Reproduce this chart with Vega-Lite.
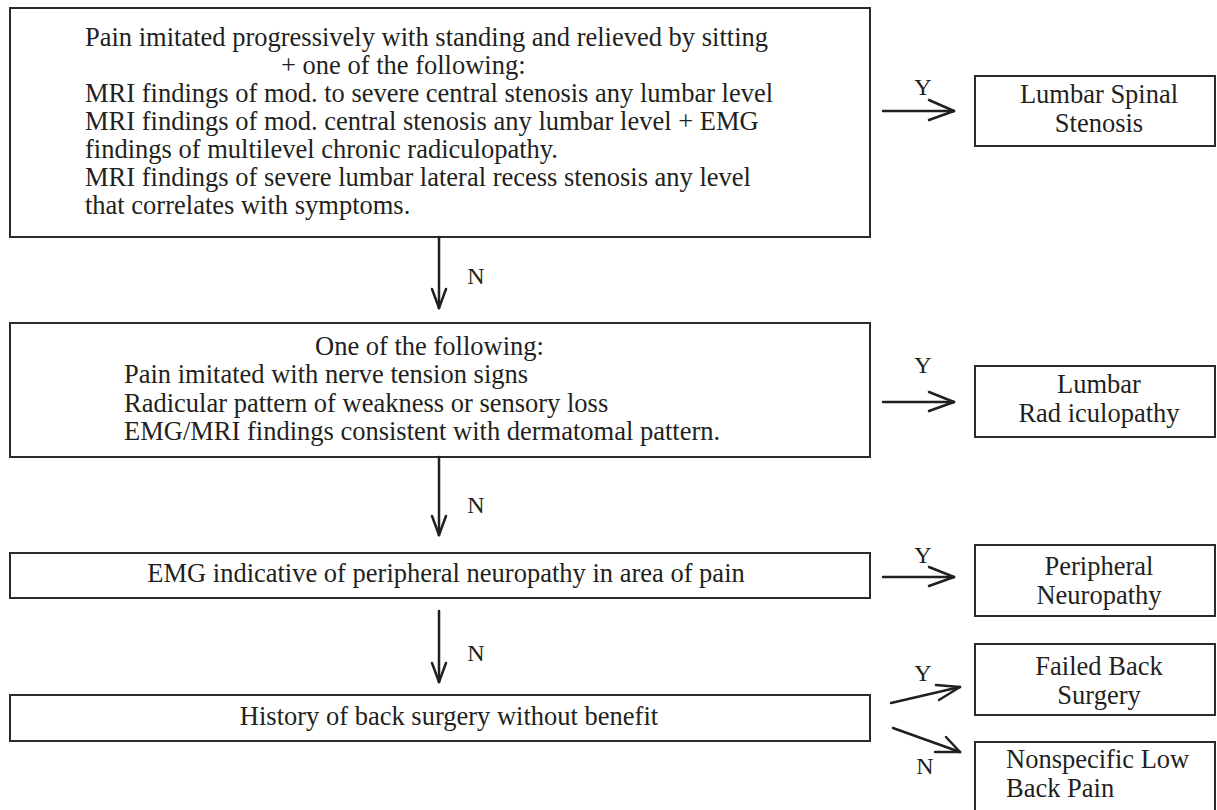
{
  "$schema": "https://vega.github.io/schema/vega-lite/v6.json",
  "width": 1217,
  "height": 810,
  "padding": 0,
  "autosize": {"type": "fit", "contains": "padding"},
  "background": "white",
  "config": {"view": {"stroke": null}},
  "datasets": {
    "boxes": [
      {"node": "Stenosis criteria", "x": 10, "x2": 870, "y": 8, "y2": 237},
      {"node": "Radiculopathy criteria", "x": 10, "x2": 870, "y": 323, "y2": 457},
      {"node": "EMG neuropathy", "x": 10, "x2": 870, "y": 553, "y2": 598},
      {"node": "Back surgery history", "x": 10, "x2": 870, "y": 695, "y2": 741},
      {"node": "Lumbar Spinal Stenosis", "x": 975, "x2": 1215, "y": 76, "y2": 146},
      {"node": "Lumbar Radiculopathy", "x": 975, "x2": 1215, "y": 366, "y2": 437},
      {"node": "Peripheral Neuropathy", "x": 975, "x2": 1215, "y": 545, "y2": 616},
      {"node": "Failed Back Surgery", "x": 975, "x2": 1215, "y": 644, "y2": 715},
      {"node": "Nonspecific Low Back Pain", "x": 975, "x2": 1215, "y": 742, "y2": 830}
    ],
    "segments": [
      {"x": 883, "y": 111, "x2": 954, "y2": 111},
      {"x": 929, "y": 100, "x2": 954, "y2": 111},
      {"x": 929, "y": 120, "x2": 954, "y2": 111},
      {"x": 883, "y": 402, "x2": 954, "y2": 402},
      {"x": 929, "y": 392, "x2": 954, "y2": 402},
      {"x": 929, "y": 411, "x2": 954, "y2": 402},
      {"x": 883, "y": 577, "x2": 954, "y2": 577},
      {"x": 929, "y": 567, "x2": 954, "y2": 577},
      {"x": 929, "y": 586, "x2": 954, "y2": 577},
      {"x": 891, "y": 703, "x2": 960, "y2": 687},
      {"x": 936, "y": 685, "x2": 960, "y2": 687},
      {"x": 939, "y": 700, "x2": 960, "y2": 687},
      {"x": 893, "y": 728, "x2": 960, "y2": 752},
      {"x": 935, "y": 752, "x2": 960, "y2": 752},
      {"x": 946, "y": 737, "x2": 960, "y2": 752},
      {"x": 439, "y": 237, "x2": 439, "y2": 308},
      {"x": 432, "y": 289, "x2": 439, "y2": 308},
      {"x": 446, "y": 289, "x2": 439, "y2": 308},
      {"x": 439, "y": 457, "x2": 439, "y2": 535},
      {"x": 432, "y": 516, "x2": 439, "y2": 535},
      {"x": 446, "y": 516, "x2": 439, "y2": 535},
      {"x": 439, "y": 611, "x2": 439, "y2": 682},
      {"x": 432, "y": 663, "x2": 439, "y2": 682},
      {"x": 446, "y": 663, "x2": 439, "y2": 682}
    ],
    "leftText": [
      {"x": 85, "y": 46, "text": "Pain imitated progressively with standing and relieved by sitting"},
      {"x": 281, "y": 74, "text": "+ one of the following:"},
      {"x": 85, "y": 102, "text": "MRI findings of mod. to severe central stenosis any lumbar level"},
      {"x": 85, "y": 130, "text": "MRI findings of mod. central stenosis any lumbar level + EMG"},
      {"x": 85, "y": 158, "text": "findings of multilevel chronic radiculopathy."},
      {"x": 85, "y": 186, "text": "MRI findings of severe lumbar lateral recess stenosis any level"},
      {"x": 85, "y": 214, "text": "that correlates with symptoms."},
      {"x": 315, "y": 355, "text": "One of the following:"},
      {"x": 124, "y": 383, "text": "Pain imitated with nerve tension signs"},
      {"x": 124, "y": 412, "text": "Radicular pattern of weakness or sensory loss"},
      {"x": 124, "y": 440, "text": "EMG/MRI findings consistent with dermatomal pattern."},
      {"x": 1006, "y": 768, "text": "Nonspecific Low"},
      {"x": 1006, "y": 797, "text": "Back Pain"}
    ],
    "centerText": [
      {"x": 446, "y": 582, "text": "EMG indicative of peripheral neuropathy in area of pain"},
      {"x": 449, "y": 725, "text": "History of back surgery without benefit"},
      {"x": 1099, "y": 103, "text": "Lumbar Spinal"},
      {"x": 1099, "y": 132, "text": "Stenosis"},
      {"x": 1099, "y": 393, "text": "Lumbar"},
      {"x": 1099, "y": 422, "text": "Rad iculopathy"},
      {"x": 1099, "y": 575, "text": "Peripheral"},
      {"x": 1099, "y": 604, "text": "Neuropathy"},
      {"x": 1099, "y": 675, "text": "Failed Back"},
      {"x": 1099, "y": 704, "text": "Surgery"}
    ],
    "flags": [
      {"x": 923, "y": 95, "text": "Y"},
      {"x": 923, "y": 373, "text": "Y"},
      {"x": 923, "y": 563, "text": "Y"},
      {"x": 923, "y": 681, "text": "Y"},
      {"x": 925, "y": 774, "text": "N"},
      {"x": 476, "y": 284, "text": "N"},
      {"x": 476, "y": 513, "text": "N"},
      {"x": 476, "y": 661, "text": "N"}
    ]
  },
  "encoding": {},
  "layer": [
    {
      "data": {"name": "boxes"},
      "mark": {"type": "rect", "fill": "white", "stroke": "#2b2b2b", "strokeWidth": 2, "clip": true},
      "encoding": {
        "x": {"field": "x", "type": "quantitative", "scale": {"domain": [0, 1217], "nice": false, "zero": false}, "axis": null},
        "x2": {"field": "x2"},
        "y": {"field": "y", "type": "quantitative", "scale": {"domain": [0, 810], "nice": false, "zero": false, "reverse": true}, "axis": null},
        "y2": {"field": "y2"}
      }
    },
    {
      "data": {"name": "segments"},
      "mark": {"type": "rule", "stroke": "#231f20", "strokeWidth": 2.5, "strokeCap": "round"},
      "encoding": {
        "x": {"field": "x", "type": "quantitative", "axis": null},
        "x2": {"field": "x2"},
        "y": {"field": "y", "type": "quantitative", "axis": null},
        "y2": {"field": "y2"}
      }
    },
    {
      "data": {"name": "leftText"},
      "mark": {"type": "text", "align": "left", "baseline": "alphabetic", "font": "Liberation Serif", "fontSize": 26.5, "color": "#231f20"},
      "encoding": {
        "x": {"field": "x", "type": "quantitative", "axis": null},
        "y": {"field": "y", "type": "quantitative", "axis": null},
        "text": {"field": "text"}
      }
    },
    {
      "data": {"name": "centerText"},
      "mark": {"type": "text", "align": "center", "baseline": "alphabetic", "font": "Liberation Serif", "fontSize": 26.5, "color": "#231f20"},
      "encoding": {
        "x": {"field": "x", "type": "quantitative", "axis": null},
        "y": {"field": "y", "type": "quantitative", "axis": null},
        "text": {"field": "text"}
      }
    },
    {
      "data": {"name": "flags"},
      "mark": {"type": "text", "align": "center", "baseline": "alphabetic", "font": "Liberation Serif", "fontSize": 24, "color": "#231f20"},
      "encoding": {
        "x": {"field": "x", "type": "quantitative", "axis": null},
        "y": {"field": "y", "type": "quantitative", "axis": null},
        "text": {"field": "text"}
      }
    }
  ]
}
